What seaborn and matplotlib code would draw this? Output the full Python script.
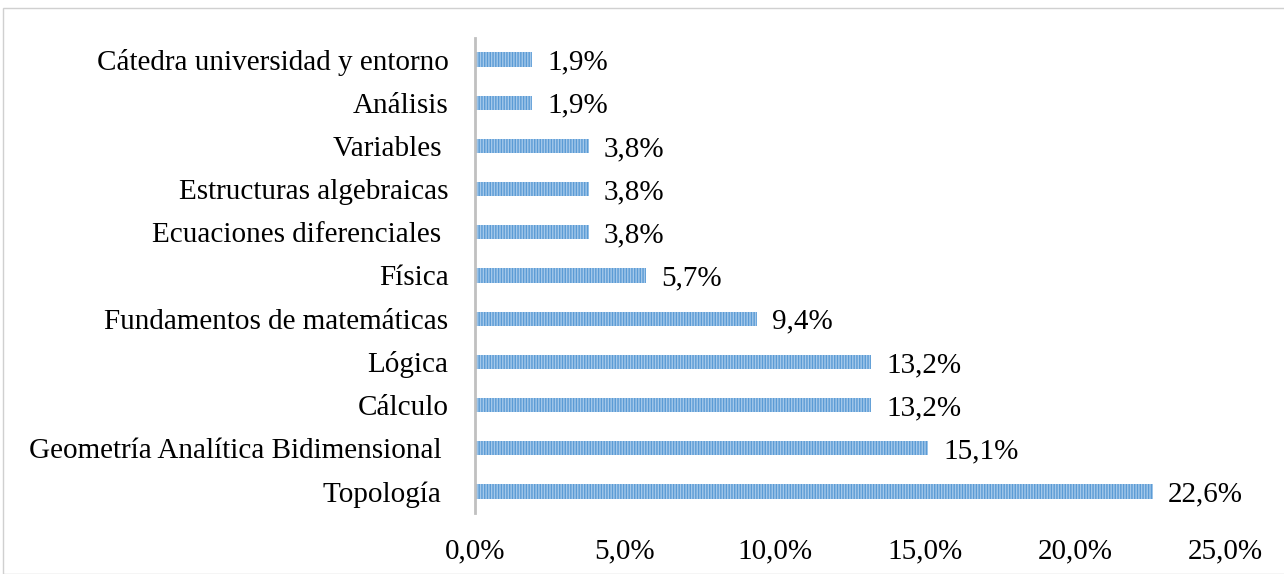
import pandas as pd
import seaborn as sns
import matplotlib.pyplot as plt
from matplotlib.patches import Rectangle

# data (percent)
cursos = ["Cátedra universidad y entorno", "Análisis", "Variables ",
          "Estructuras algebraicas", "Ecuaciones diferenciales ", "Física",
          "Fundamentos de matemáticas", "Lógica", "Cálculo",
          "Geometría Analítica Bidimensional ", "Topología "]
porcentajes = [1.9, 1.9, 3.8, 3.8, 3.8, 5.7, 9.4, 13.2, 13.2, 15.1, 22.6]
ticks = [0, 5, 10, 15, 20, 25]

df = pd.DataFrame({"curso": cursos, "pct": porcentajes})

sns.set_style("white")
plt.rcParams['font.family'] = ['Liberation Serif', 'DejaVu Serif']
plt.rcParams['hatch.linewidth'] = 1.0
plt.rcParams['text.color'] = 'black'
plt.rcParams['xtick.color'] = 'black'
plt.rcParams['ytick.color'] = 'black'

fs = 21

fig = plt.figure(figsize=(12.84, 5.74), dpi=100)
ax = fig.add_axes([475/1284, 1 - 513/574, (1240-475)/1284, (513-38)/574])

sns.barplot(data=df, x="pct", y="curso", orient="h", ax=ax, width=0.33,
            color="#a4c8ea", saturation=1)
for bar in ax.patches:
    bar.set_hatch("||||||")
    bar.set_edgecolor("#5b9bd5")
    bar.set_linewidth(0)

for bar, v in zip(ax.patches, porcentajes):
    ax.text(bar.get_width() + 0.5, bar.get_y() + bar.get_height() / 2 + 0.07,
            f"{v:.1f}%".replace(".", ","), va="center", ha="left", fontsize=fs)

ax.set_xlim(0, 25.5)
ax.set_xticks(ticks)
ax.set_xticklabels([f"{t:.1f}%".replace(".", ",") for t in ticks], fontsize=fs)
ax.tick_params(axis="x", length=0, pad=18)
ax.tick_params(axis="y", length=0, pad=19, labelsize=fs)
ax.set_xlabel("")
ax.set_ylabel("")
for s in ["top", "right", "bottom"]:
    ax.spines[s].set_visible(False)
ax.spines["left"].set_color("#c0c0c0")
ax.spines["left"].set_linewidth(2)

# outer frame
fig.patches.append(Rectangle((3/1284, 0), 1.0, 1 - 8/574, transform=fig.transFigure,
                             fill=False, edgecolor="#d0d0d0", linewidth=1))

fig.savefig("out.png", dpi=100)
